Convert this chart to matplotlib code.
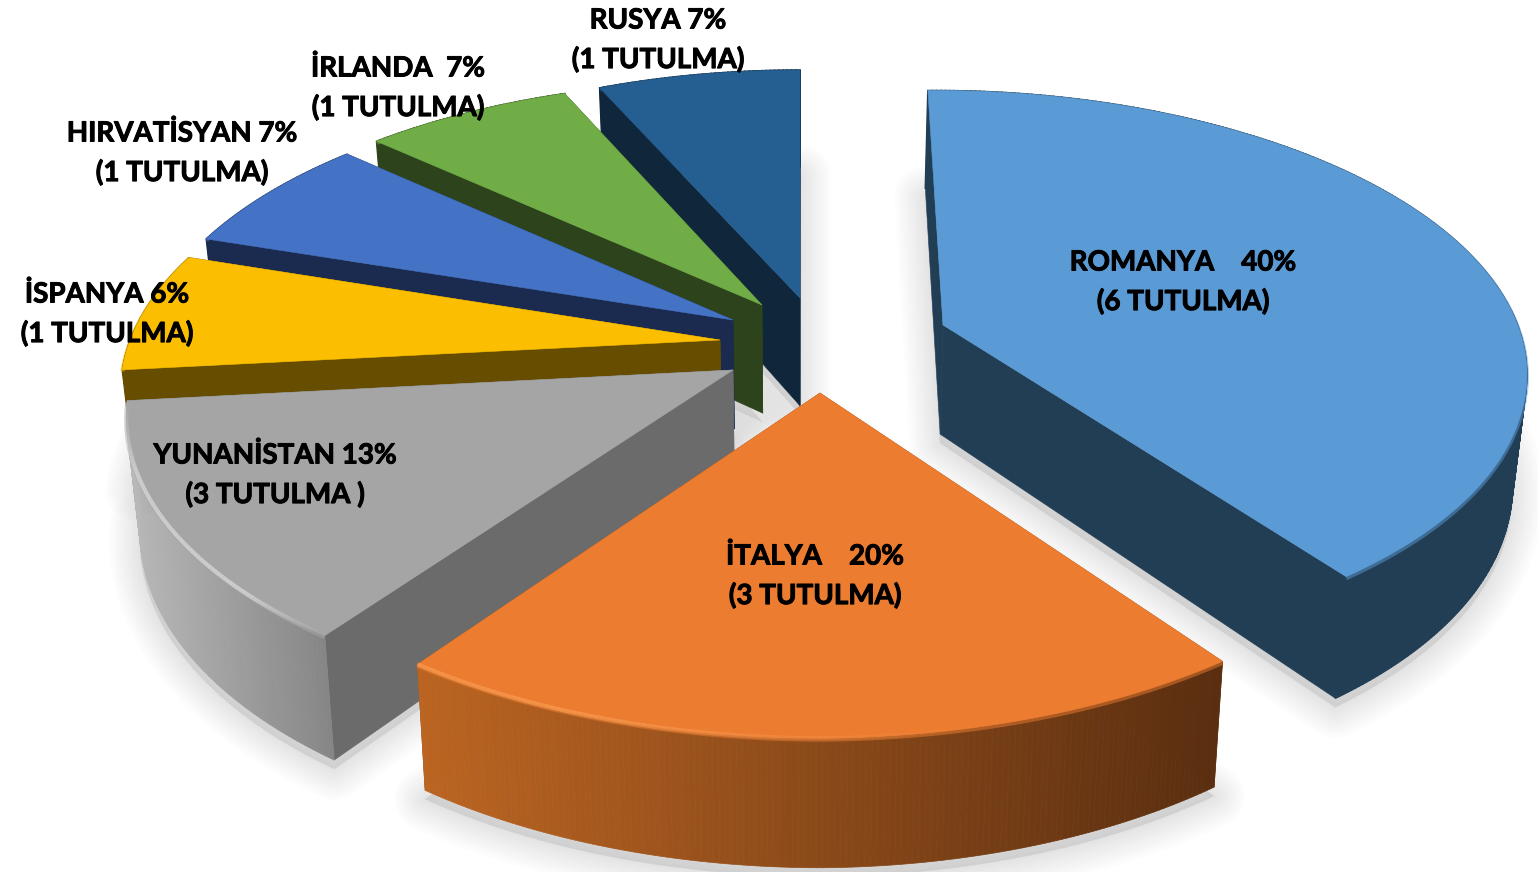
import matplotlib
matplotlib.use("Agg")
import matplotlib.pyplot as plt
import matplotlib.patheffects as pe
import numpy as np
from matplotlib.colors import to_rgb
from matplotlib.patches import Polygon

plt.rcParams["font.family"] = ["Lato", "DejaVu Sans"]

# chart data, clockwise from 12 o'clock; slices are sized by number of cases
names = ["ROMANYA    40%", "İTALYA    20%", "YUNANİSTAN 13%", "İSPANYA 6%", "HIRVATİSYAN 7%", "İRLANDA  7%", "RUSYA 7%"]
counts = ["(6 TUTULMA)", "(3 TUTULMA)", "(3 TUTULMA )", "(1 TUTULMA)", "(1 TUTULMA)", "(1 TUTULMA)", "(1 TUTULMA)"]
slice_sizes = [6, 3, 2, 1, 1, 1, 1]
top_colors = ["#5B9BD5", "#EC7C30", "#A5A5A5", "#FBBE00", "#4472C4", "#70AD47", "#255E91"]
wall_colors = ["#223E55", "#8A4A1C", "#6B6B6B", "#664D00", "#1B2B4F", "#2D431C", "#0F263B"]
edge_colors = [None, "#FA9A50", "#DADADA", None, None, None, None]

# layout: apex of each exploded slice and label centre, in pixels
apex_px = [(943, 325), (820, 393), (733, 370), (720, 340), (733, 320), (762, 305), (800, 298)]
label_px = [(1183, 282), (815, 576), (275, 475), (107, 314), (182, 153), (398, 88), (658, 40)]
draw_order = [6, 5, 4, 3, 2, 0, 1]

# perspective camera fitted to the picture
CX, HORIZON, D0, KY, SX = 801.0, -1880.0, 2225.0, 5.8e-5, 0.2707
DEPTH, NADIR = 0.0495, 0.02
# the back of the pie is foreshortened more than the camera alone gives
RIM_ANGLES = [0, 36, 72, 108, 144, 180, 216, 264, 288, 312, 336, 360]
RIM_RADIUS = [0.93, 0.94, 0.955, 0.97, 0.99, 1.0, 1.0, 0.985, 0.97, 0.955, 0.925, 0.925]


def to_world(u, v):
    d = v - HORIZON
    return (u - CX) / (SX * d), (1.0 / d - 1.0 / D0) / KY


def project(x, y):
    d = 1.0 / (1.0 / D0 + KY * y)
    return CX + SX * d * x, HORIZON + d


def drop(u, v):
    # bottom edge of the slice below a top point
    return CX + (u - CX) * (1 - NADIR), v + DEPTH * (v - HORIZON)


def slice_outline(apex, start, stop):
    ax0, ay0 = to_world(*apex)
    deg = np.linspace(start, stop, max(int(stop - start), 2) * 2 + 1)
    ang = np.radians(deg)
    r = np.interp(deg, RIM_ANGLES, RIM_RADIUS)
    return project(ax0 + r * np.sin(ang), ay0 + r * np.cos(ang))


def mix(c1, c2, t):
    c1, c2 = np.array(to_rgb(c1)), np.array(to_rgb(c2))
    return tuple(c1 + (c2 - c1) * t)


# colour of one quad of the curved wall
def arc_color(i, u):
    if i == 1:
        return mix("#BC6522", "#5A2E10", np.clip((u - 416) / 808, 0, 1))
    if i == 2:
        return mix("#B8B8B8", "#858585", np.clip((u - 125) / 205, 0, 1))
    return wall_colors[i]


fig = plt.figure(figsize=(15.38, 8.72), dpi=100)
ax = fig.add_axes([0, 0, 1, 1])
ax.set_xlim(0, 1538)
ax.set_ylim(872, 0)
ax.axis("off")

edges = np.cumsum([0] + slice_sizes) / sum(slice_sizes) * 360.0

# soft shadow under all slices
for i in draw_order:
    au, av = apex_px[i]
    u, v = slice_outline(apex_px[i], edges[i], edges[i + 1])
    bu, bv = drop(u, v)
    bau, bav = drop(au, av)
    pts = np.column_stack([np.r_[bau, bu], np.r_[bav, bv] + 9])
    for lw in range(44, 2, -5):
        ax.add_patch(Polygon(pts, closed=True, fc="#A0A0A0", ec="#A0A0A0", lw=lw, alpha=0.03,
                             joinstyle="round", zorder=1))

# painter's order: walls, then top face, back slices first
z = 2
for i in draw_order:
    au, av = apex_px[i]
    u, v = slice_outline(apex_px[i], edges[i], edges[i + 1])
    bu, bv = drop(u, v)
    bau, bav = drop(au, av)
    for eu, ev, ebu, ebv in [(u[0], v[0], bu[0], bv[0]), (u[-1], v[-1], bu[-1], bv[-1])]:
        ax.add_patch(Polygon([(au, av), (eu, ev), (ebu, ebv), (bau, bav)], fc=wall_colors[i],
                             ec=wall_colors[i], lw=0.4, zorder=z))
    z += 1
    seam = 0.5 if edge_colors[i] is not None else 1.2
    for k in range(len(u) - 1):
        c = arc_color(i, u[k])
        ax.add_patch(Polygon([(u[k], v[k]), (u[k + 1], v[k + 1]), (bu[k + 1], bv[k + 1]), (bu[k], bv[k])],
                             fc=c, ec=c, lw=seam, zorder=z))
    z += 1
    ax.add_patch(Polygon(np.column_stack([np.r_[au, u], np.r_[av, v]]), fc=top_colors[i],
                         ec=top_colors[i], lw=0.4, zorder=z))
    z += 1
    # soft rim between top face and wall
    ax.plot(u, v + 1.5, color=top_colors[i], lw=3, alpha=0.5, solid_capstyle="butt", zorder=z)
    # bright bevel on the lit left side, fading out
    if edge_colors[i] is not None:
        n = len(u)
        for k in range(n - 1):
            t = k / (n - 1)
            strength = np.clip((t - 0.3) / 0.5, 0, 1) if i == 1 else np.clip(t / 0.2, 0, 1) * np.clip((1 - t) / 0.3, 0, 1)
            ax.plot(u[k:k + 2], v[k:k + 2], color=edge_colors[i], lw=3, alpha=0.75 * strength,
                    solid_capstyle="butt", zorder=z)
    z += 1

# two line labels, slightly thickened like the source font
stroke = [pe.withStroke(linewidth=0.7, foreground="black")]
for i in range(len(names)):
    lx, ly = label_px[i]
    for text, off in [(names[i], -19.5), (counts[i], 19.5)]:
        ax.text(lx, ly + off, text, ha="center", va="center", fontsize=20, fontweight="bold",
                color="black", zorder=z, path_effects=stroke)

fig.savefig("out.png", dpi=100, facecolor="white")
